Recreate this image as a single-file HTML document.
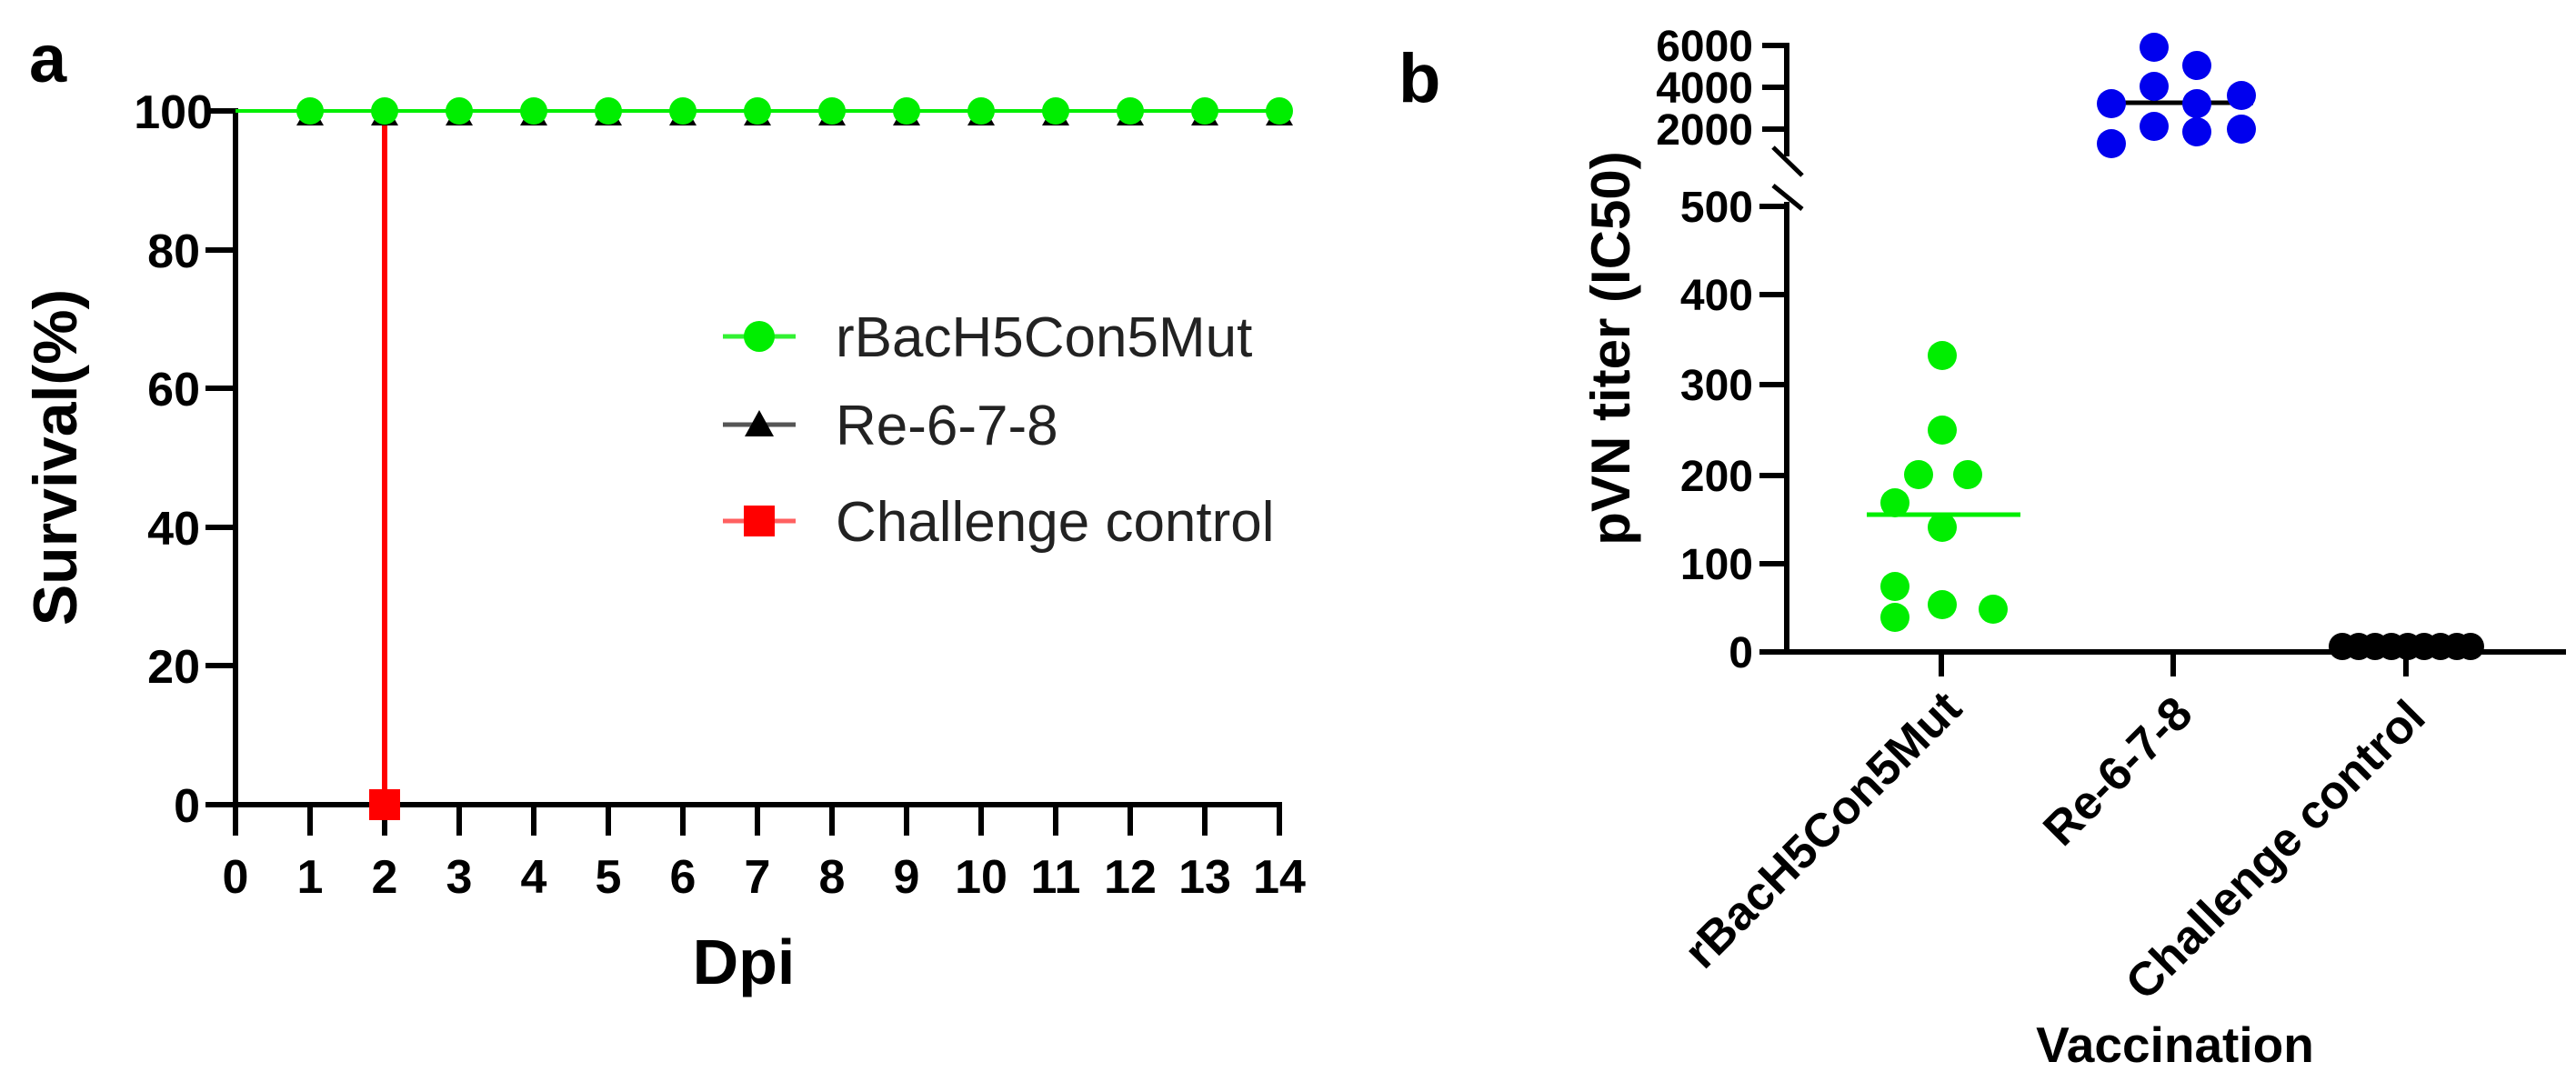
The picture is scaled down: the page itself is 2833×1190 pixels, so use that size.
<!DOCTYPE html>
<html><head><meta charset="utf-8"><style>html,body{margin:0;padding:0;background:#fff}svg{display:block}text{font-family:"Liberation Sans",Arial,sans-serif}</style></head><body>
<svg width="2833" height="1190" viewBox="0 0 2833 1190" xmlns="http://www.w3.org/2000/svg">
<!-- Panel a -->
<text x="32" y="90" font-size="74" font-weight="bold">a</text>
<g stroke="#000" stroke-width="6" fill="none">
<line x1="259" y1="119" x2="259" y2="888"/>
<line x1="256" y1="885" x2="1410" y2="885"/>
<line x1="226" y1="122" x2="259" y2="122"/>
<line x1="226" y1="275" x2="259" y2="275"/>
<line x1="226" y1="427" x2="259" y2="427"/>
<line x1="226" y1="580" x2="259" y2="580"/>
<line x1="226" y1="732" x2="259" y2="732"/>
<line x1="226" y1="885" x2="259" y2="885"/>
<path d="M259 885V919M341 885V919M423 885V919M505 885V919M587 885V919M669 885V919M751 885V919M833 885V919M915 885V919M997 885V919M1079 885V919M1161 885V919M1243 885V919M1325 885V919M1407 885V919"/>
</g>
<g font-size="52" font-weight="bold" text-anchor="end">
<text x="234" y="141">100</text><text x="220" y="294">80</text><text x="220" y="446">60</text>
<text x="220" y="599">40</text><text x="220" y="751">20</text><text x="220" y="904">0</text>
</g>
<g font-size="52" font-weight="bold" text-anchor="middle">
<text x="259" y="982">0</text><text x="341" y="982">1</text><text x="423" y="982">2</text><text x="505" y="982">3</text><text x="587" y="982">4</text><text x="669" y="982">5</text><text x="751" y="982">6</text><text x="833" y="982">7</text><text x="915" y="982">8</text><text x="997" y="982">9</text><text x="1079" y="982">10</text><text x="1161" y="982">11</text><text x="1243" y="982">12</text><text x="1325" y="982">13</text><text x="1407" y="982">14</text>
</g>
<text x="818" y="1082" font-size="70" font-weight="bold" text-anchor="middle">Dpi</text>
<text transform="translate(84,503) rotate(-90)" font-size="68" font-weight="bold" text-anchor="middle">Survival(%)</text>
<!-- lines -->
<line x1="259" y1="122" x2="1407" y2="122" stroke="#00ee00" stroke-width="4"/>
<line x1="423" y1="122" x2="423" y2="885" stroke="#ff0000" stroke-width="6"/>
<g fill="#000">
<path d="M326 138L341 112L356 138Z M408 138L423 112L438 138Z M490 138L505 112L520 138Z M572 138L587 112L602 138Z M654 138L669 112L684 138Z M736 138L751 112L766 138Z M818 138L833 112L848 138Z M900 138L915 112L930 138Z M982 138L997 112L1012 138Z M1064 138L1079 112L1094 138Z M1146 138L1161 112L1176 138Z M1228 138L1243 112L1258 138Z M1310 138L1325 112L1340 138Z M1392 138L1407 112L1422 138Z"/>
</g>
<g fill="#00ee00">
<circle cx="341" cy="122" r="15"/><circle cx="423" cy="122" r="15"/><circle cx="505" cy="122" r="15"/><circle cx="587" cy="122" r="15"/><circle cx="669" cy="122" r="15"/><circle cx="751" cy="122" r="15"/><circle cx="833" cy="122" r="15"/><circle cx="915" cy="122" r="15"/><circle cx="997" cy="122" r="15"/><circle cx="1079" cy="122" r="15"/><circle cx="1161" cy="122" r="15"/><circle cx="1243" cy="122" r="15"/><circle cx="1325" cy="122" r="15"/><circle cx="1407" cy="122" r="15"/>
</g>
<rect x="406" y="868" width="34" height="34" fill="#ff0000"/>
<!-- legend -->
<line x1="795" y1="370" x2="875" y2="370" stroke="#00ee00" stroke-width="5" opacity="0.8"/>
<circle cx="835" cy="370" r="17" fill="#00ee00"/>
<line x1="795" y1="467" x2="875" y2="467" stroke="#555" stroke-width="5"/>
<path d="M819 480L835 451L851 480Z" fill="#000"/>
<line x1="795" y1="573" x2="875" y2="573" stroke="#ff6060" stroke-width="5"/>
<rect x="818" y="556" width="34" height="34" fill="#ff0000"/>
<g font-size="62" fill="#222">
<text x="919" y="392">rBacH5Con5Mut</text>
<text x="919" y="489">Re-6-7-8</text>
<text x="919" y="595">Challenge control</text>
</g>
<!-- Panel b -->
<text x="1538" y="112" font-size="76" font-weight="bold">b</text>
<g stroke="#000" stroke-width="6" fill="none">
<line x1="1965" y1="47" x2="1965" y2="172"/>
<line x1="1938" y1="50" x2="1965" y2="50"/>
<line x1="1938" y1="96" x2="1965" y2="96"/>
<line x1="1938" y1="142" x2="1965" y2="142"/>
<line x1="1950" y1="162" x2="1982" y2="193" stroke-width="5"/>
<line x1="1950" y1="204" x2="1982" y2="230" stroke-width="5"/>
<line x1="1965" y1="222" x2="1965" y2="719"/>
<line x1="1935" y1="227" x2="1965" y2="227"/>
<line x1="1935" y1="324" x2="1965" y2="324"/>
<line x1="1935" y1="423" x2="1965" y2="423"/>
<line x1="1935" y1="523" x2="1965" y2="523"/>
<line x1="1935" y1="620" x2="1965" y2="620"/>
<line x1="1935" y1="717" x2="2822" y2="717"/>
<path d="M2135 717V744M2390 717V744M2646 717V744"/>
</g>
<g font-size="48" font-weight="bold" text-anchor="end">
<text x="1928" y="67">6000</text><text x="1928" y="113">4000</text><text x="1928" y="159">2000</text>
<text x="1928" y="244">500</text><text x="1928" y="341">400</text><text x="1928" y="440">300</text>
<text x="1928" y="540">200</text><text x="1928" y="637">100</text><text x="1928" y="734">0</text>
</g>
<text transform="translate(1792,383) rotate(-90)" font-size="60" font-weight="bold" text-anchor="middle">pVN titer (IC50)</text>
<g fill="#00ee00">
<circle cx="2136" cy="391" r="16"/><circle cx="2136" cy="473" r="16"/><circle cx="2110" cy="522" r="16"/><circle cx="2164" cy="522" r="16"/><circle cx="2084" cy="553" r="16"/><circle cx="2136" cy="580" r="16"/><circle cx="2084" cy="645" r="16"/><circle cx="2136" cy="665" r="16"/><circle cx="2192" cy="670" r="16"/><circle cx="2084" cy="679" r="16"/>
</g>
<line x1="2053" y1="566" x2="2222" y2="566" stroke="#00ee00" stroke-width="5"/>
<line x1="2307" y1="113" x2="2478" y2="113" stroke="#000" stroke-width="5"/>
<g fill="#0000ee">
<circle cx="2369" cy="52" r="16"/><circle cx="2416" cy="72" r="16"/><circle cx="2369" cy="95" r="16"/><circle cx="2322" cy="114" r="16"/><circle cx="2416" cy="114" r="16"/><circle cx="2465" cy="105" r="16"/><circle cx="2369" cy="139" r="16"/><circle cx="2416" cy="145" r="16"/><circle cx="2465" cy="142" r="16"/><circle cx="2322" cy="158" r="16"/>
</g>
<g fill="#000">
<circle cx="2576" cy="711" r="15"/><circle cx="2594" cy="711" r="15"/><circle cx="2612" cy="711" r="15"/><circle cx="2630" cy="711" r="15"/><circle cx="2648" cy="711" r="15"/><circle cx="2666" cy="711" r="15"/><circle cx="2684" cy="711" r="15"/><circle cx="2702" cy="711" r="15"/><circle cx="2717" cy="711" r="15"/>
</g>
<g font-size="52" font-weight="bold" text-anchor="end">
<text transform="translate(2160,782) rotate(-45)">rBacH5Con5Mut</text>
<text transform="translate(2414,788) rotate(-45)">Re-6-7-8</text>
<text transform="translate(2670,792) rotate(-45)">Challenge control</text>
</g>
<text x="2392" y="1168" font-size="55" font-weight="bold" text-anchor="middle">Vaccination</text>
</svg>
</body></html>
